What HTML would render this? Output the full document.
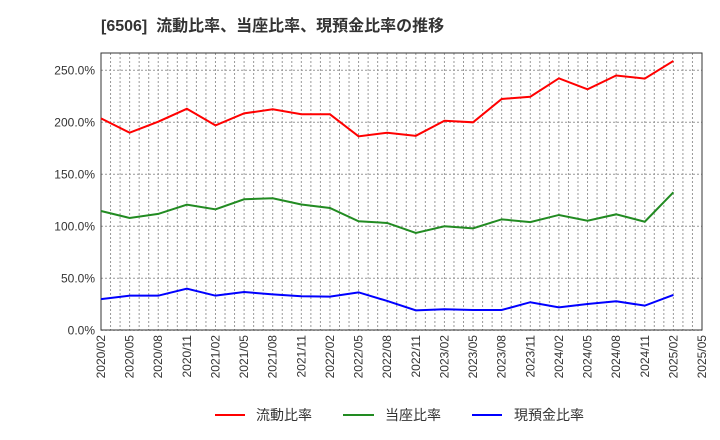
<!DOCTYPE html>
<html><head><meta charset="utf-8"><style>
body{margin:0;background:#fff;}
svg{display:block;font-family:"Liberation Sans","Noto Sans CJK JP",sans-serif;}
</style></head><body>
<svg id="chart" width="720" height="440" viewBox="0 0 720 440">
<text x="101" y="31" font-size="16" font-weight="bold" fill="#333" xml:space="preserve">[6506]  流動比率、当座比率、現預金比率の推移</text>
<g id="grid"></g><g id="axes"></g><g id="series"></g>
<g>
<g><line x1="215" y1="415" x2="245" y2="415" stroke="#f00" stroke-width="2"/><text x="256" y="420" font-size="14" fill="#333">流動比率</text></g>
<g><line x1="343" y1="415" x2="374" y2="415" stroke="#228b22" stroke-width="2"/><text x="385" y="420" font-size="14" fill="#333">当座比率</text></g>
<g><line x1="472" y1="415" x2="502" y2="415" stroke="#00f" stroke-width="2"/><text x="514" y="420" font-size="14" fill="#333">現預金比率</text></g>
</g>
</svg>
<script>
const xLabels=["2020/02","2020/05","2020/08","2020/11","2021/02","2021/05","2021/08","2021/11","2022/02","2022/05","2022/08","2022/11","2023/02","2023/05","2023/08","2023/11","2024/02","2024/05","2024/08","2024/11","2025/02","2025/05"];
const yTicks=[0,50,100,150,200,250];
const currentRatio=[203.8,190,200.6,213,197,208.6,212.5,207.7,207.7,186.5,190,187,201.5,200,222.4,224.6,242.3,231.7,245,242,259];
const quickRatio=[114.7,108,111.9,120.8,116.3,126,127,121,117.6,104.8,103.2,93.6,100,98,106.7,104,110.9,105.4,111.5,104.4,132.7];
const cashRatio=[30,33.3,33.3,40,33.3,36.8,34.6,32.7,32.4,36.5,28.2,19.2,20.2,19.5,19.5,27,22,25.3,27.9,23.7,34];
const L=101,R=702,T=53,B=330;
const NS="http://www.w3.org/2000/svg";
const step=(R-L)/(xLabels.length-1);
const xs=i=>L+i*step;
const ys=v=>330.3-v*1.04;
function mk(tag,attrs,parent){const e=document.createElementNS(NS,tag);for(const k in attrs)e.setAttribute(k,attrs[k]);parent.appendChild(e);return e;}
const grid=document.getElementById('grid'),axes=document.getElementById('axes'),series=document.getElementById('series');
for(let m=0;m<=(xLabels.length-1)*3;m++){const x=L+m*step/3;
const g=mk('line',{x1:x,x2:x,y1:T,y2:B,stroke:'#999','stroke-width':1,'stroke-dasharray':'2,2'},grid);

}
yTicks.forEach(v=>{const y=ys(v);
const g=mk('line',{x1:L,x2:R,y1:y,y2:y,stroke:'#999','stroke-width':1,'stroke-dasharray':'2,2'},grid);


const t=mk('text',{x:L-6,y:y+4,'font-size':12,fill:'#333','text-anchor':'end'},axes);t.textContent=v.toFixed(1)+'%';

});
xLabels.forEach((s,i)=>{const x=xs(i);
const t=mk('text',{x:0,y:0,'font-size':12,fill:'#333','text-anchor':'end',transform:`translate(${x+4},${B+5}) rotate(-90)`},axes);t.textContent=s;

});
const frame=mk('rect',{x:L,y:T,width:R-L,height:B-T,fill:'none',stroke:'#333','stroke-width':1},axes);


[[currentRatio,'#f00','current-ratio-line'],[quickRatio,'#228b22','quick-ratio-line'],[cashRatio,'#00f','cash-ratio-line']].forEach(([d,c,n])=>{
const p=mk('polyline',{points:d.map((v,i)=>xs(i)+','+ys(v)).join(' '),fill:'none',stroke:c,'stroke-width':2},series);

});
</script>
</body></html>
